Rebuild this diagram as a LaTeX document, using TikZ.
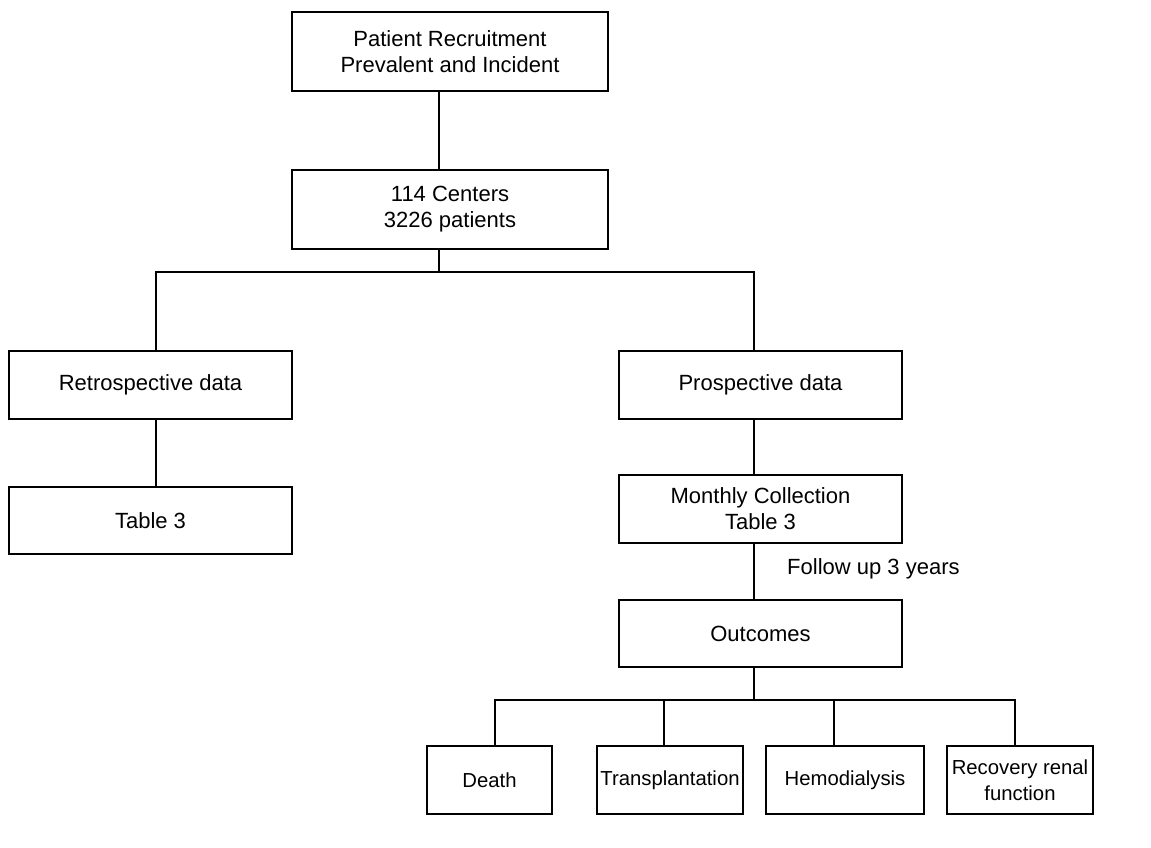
\documentclass[tikz,border=0pt]{standalone}
\usepackage{fontspec}
\setmainfont{Liberation Sans}
\usepackage{tikz}
\usetikzlibrary{positioning}
\tikzstyle{line} = [line width=1.2pt]

\begin{document}
\begin{tikzpicture}[x=1pt,y=-1pt]
\tikzset{box/.style={draw,line width=1.2pt,align=center,inner sep=1pt,
  font=\fontsize{22}{26}\selectfont,minimum height=68pt},
  small/.style={font=\fontsize{20.3}{26}\selectfont}}
\useasboundingbox (0,0) rectangle (1151,848);

\node[box,minimum width=316pt,minimum height=79pt] (recruit) at (450,51.5) {Patient Recruitment\\Prevalent and Incident};
\node[box,minimum width=316pt,minimum height=79pt] (centers) at (450,209.5) {114 Centers\\3226 patients};

\node[box,minimum width=283pt] (retro) at (150.5,385) {Retrospective data};
\node[box,minimum width=283pt,minimum height=67pt] (table) at (150.5,520.5) {Table 3};
\node[box,minimum width=283pt] (prosp) at (760.5,385) {Prospective data};
\node[box,minimum width=283pt] (monthly) at (760.5,509) {Monthly Collection\\Table 3};
\node[box,minimum width=283pt,minimum height=67pt] (outcomes) at (760.5,633.5) {Outcomes};
\node[anchor=west,inner sep=0pt,font=\fontsize{22}{26}\selectfont] (follow) at (787,569) {Follow up 3 years};

\foreach \n/\cx/\w/\t in {death/489.5/125/Death, transp/670/146/Transplantation,
  hemo/845/158/Hemodialysis, recov/1020/146/{Recovery renal\\function}} {
\node[box,small,minimum width=\w pt] (\n) at (\cx,780) {\t}; }

\coordinate (trunk) at (439,272);
\coordinate (busL) at (156,272);
\coordinate (busR) at (754,272);
\coordinate (busB) at (754,700);

\draw[line] (recruit.south -| trunk) -- (centers.north -| trunk);
\draw[line] (centers.south -| trunk) -- (trunk);
\draw[line] (retro.north -| busL) -- (busL) -- (busR) -- (prosp.north -| busR);
\draw[line] (retro.south -| busL) -- (table.north -| busL);
\draw[line] (prosp.south -| busR) -- (monthly.north -| busR);
\draw[line] (monthly.south -| busR) -- (outcomes.north -| busR);
\draw[line] (outcomes.south -| busR) -- (busB);

\draw[line] (death.north -| 495,0) |- (busB) -| (recov.north -| 1015,0);
\foreach \n/\lx in {transp/664, hemo/834} {
\draw[line] (\n.north -| \lx,0) -- (\lx,700); }

\end{tikzpicture}
\end{document}
